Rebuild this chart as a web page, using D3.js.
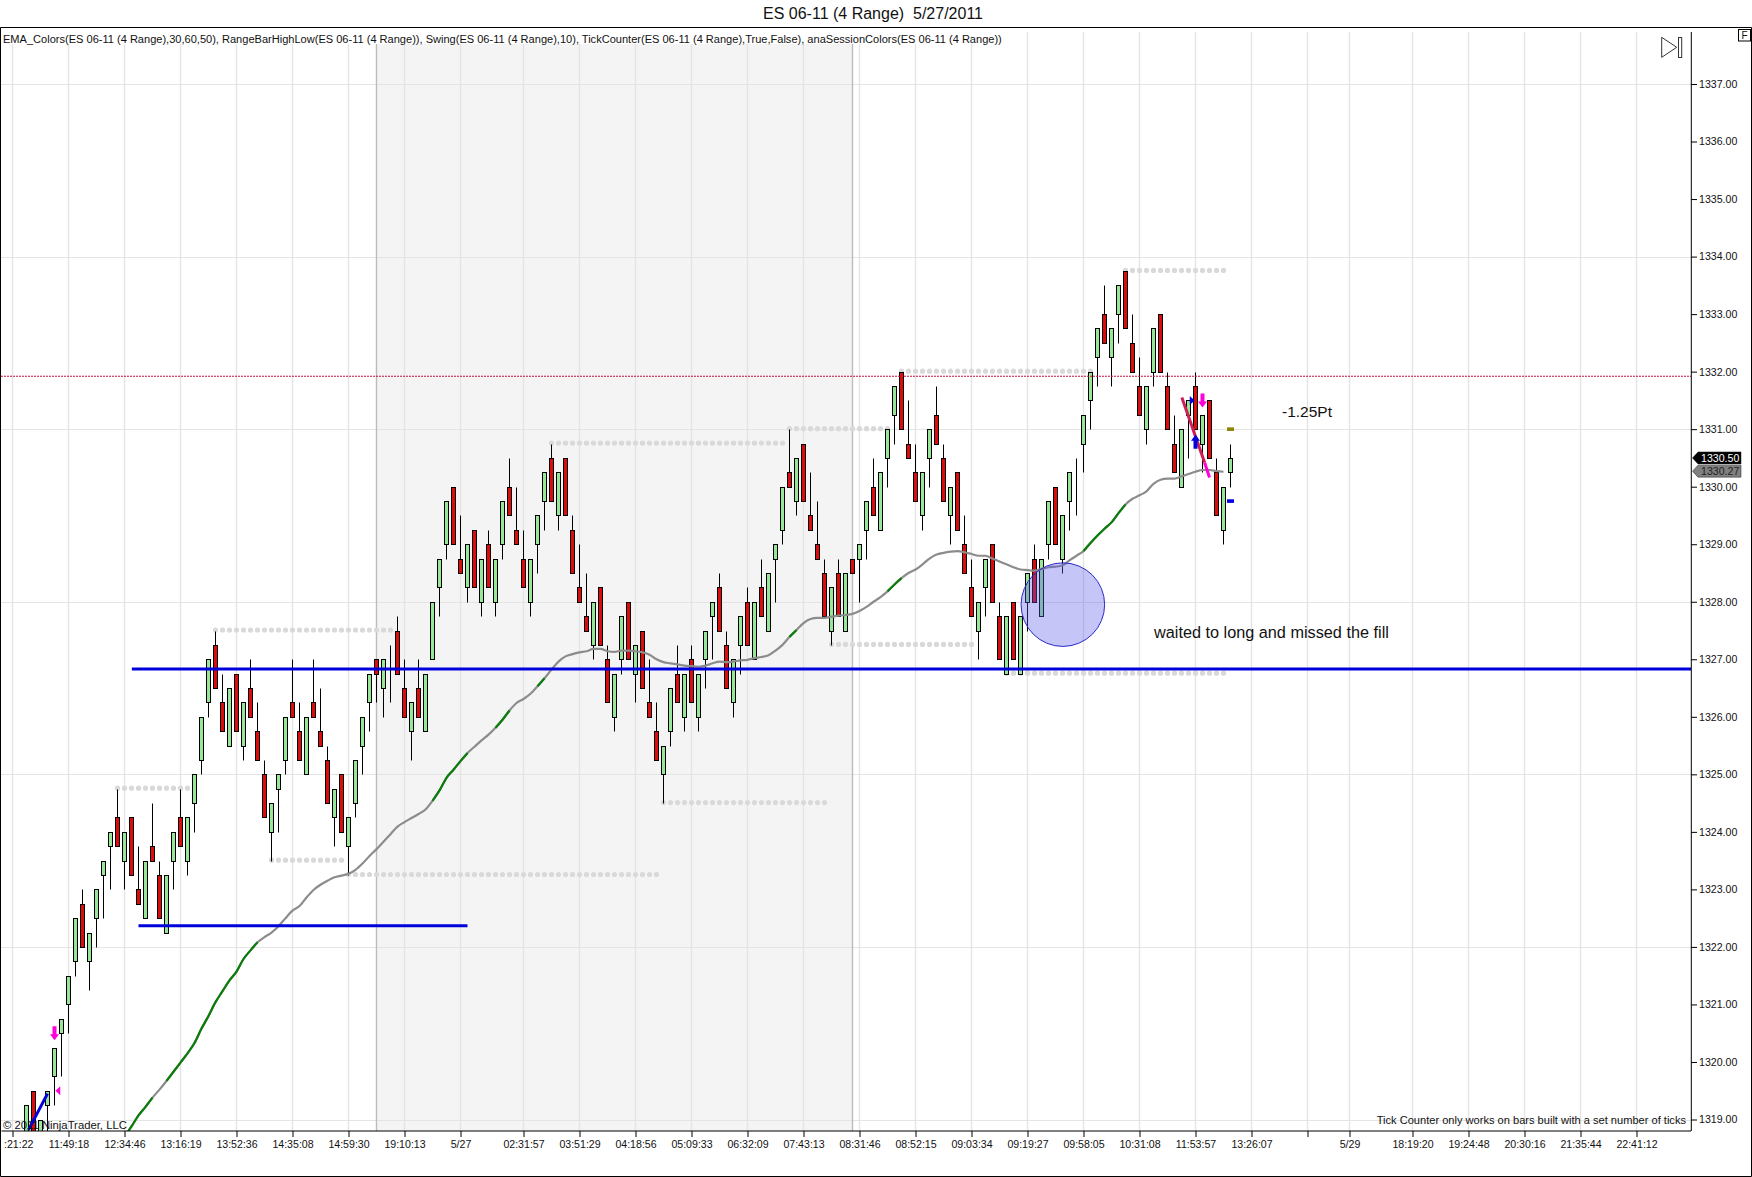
<!DOCTYPE html>
<html>
<head>
<meta charset="utf-8">
<title>ES 06-11 (4 Range)</title>
<script src="https://cdn.jsdelivr.net/npm/d3@7"></script>
<style>
  html, body { margin: 0; padding: 0; background: #fff; }
  svg { display: block; font-family: "Liberation Sans", Arial, sans-serif; }
  .domain { display: none; }
</style>
</head>
<body>
<div id="chart"></div>
<script>
////////////////////////////  Data  ////////////////////////////
const title = "ES 06-11 (4 Range)  5/27/2011";
const indicatorText = "EMA_Colors(ES 06-11 (4 Range),30,60,50), RangeBarHighLow(ES 06-11 (4 Range)), Swing(ES 06-11 (4 Range),10), TickCounter(ES 06-11 (4 Range),True,False), anaSessionColors(ES 06-11 (4 Range))";

// bars start at slot 2 of the time axis
const firstBar = 2;
const opens = [
  1318.5,1319.5,1318.5,1319.25,1319.75,1320.5,1321,1321.75,1322.75,1321.75,
  1322.5,1323.25,1323.75,1324.25,1323.5,1324.25,1323,1322.5,1323.75,1323.25,
  1322.25,1323.5,1324.25,1323.5,1324.5,1325.25,1326.25,1327.25,1326.25,1325.5,
  1326.75,1325.5,1326.5,1325.75,1325,1324,1324.75,1325.25,1326.25,1325.75,
  1325,1326.25,1325.75,1325.25,1324.25,1325,1323.75,1324.5,1325.5,1326.25,
  1327,1326.5,1327.25,1327.5,1326.5,1325.75,1326.5,1325.75,1327,1328.25,
  1329,1330,1328.75,1328.25,1329.25,1328,1329,1328,1329,1330,
  1329.25,1328.75,1328,1329,1329.75,1330.5,1329.5,1330.5,1329.25,1328.25,
  1327.75,1327.25,1328.25,1327,1326,1327,1328,1326.75,1327.5,1326.25,
  1325.75,1325,1325.75,1326.75,1326,1327,1326,1327,1327.75,1328.25,
  1327.25,1326.25,1327.25,1328,1327,1328.25,1327.5,1328.75,1329.25,1330.25,
  1329.75,1330.75,1329.5,1329,1328.5,1327.5,1328.5,1327.5,1328.75,1328.75,
  1329.25,1330,1329.25,1330.5,1331.25,1332,1330.75,1330.25,1329.5,1330.5,
  1331.25,1330.5,1329.5,1330.25,1329,1328.25,1327.5,1328.25,1329,1327.75,
  1326.75,1328,1326.75,1328,1328.75,1327.75,1329,1330,1328.75,1329.75,
  1330.5,1330.75,1331.5,1332.25,1333,1332.25,1333,1333.75,1332.5,1331.75,
  1331,1332,1333,1331.75,1330.75,1330,1331.25,1331.75,1330.75,1331.5,
  1330.25,1329.25,1330.25
];
const highs = [
  1319.25,1319.5,1319,1319.5,1320.25,1320.75,1321.5,1322.5,1323,1322.25,
  1323,1323.5,1324,1324.75,1324,1324.25,1323.75,1323.5,1324.5,1323.5,
  1323.25,1324,1324.75,1324.25,1325,1326,1327,1327.5,1326.75,1326.5,
  1326.75,1326.25,1327,1326.25,1325.25,1324.5,1325,1326,1327,1326.25,
  1326,1327,1326.5,1325.5,1324.75,1325,1324.25,1325.25,1326,1326.75,
  1327,1327,1327.25,1327.75,1327,1326.25,1327,1326.75,1328,1328.75,
  1329.75,1330,1329.5,1329,1329.25,1328.75,1329.25,1328.75,1329.75,1330.5,
  1330,1329.25,1328.75,1329.5,1330.25,1330.75,1330.25,1330.5,1329.5,1329,
  1328.5,1328,1328.25,1327.25,1326.75,1327.75,1328,1327.25,1327.5,1327,
  1326.25,1325.5,1326.5,1327.25,1326.75,1327.25,1326.75,1327.5,1328,1328.5,
  1327.5,1327,1327.75,1328.25,1328,1328.75,1328.5,1329,1330,1331,
  1330.5,1330.75,1330.25,1329.75,1328.75,1328.25,1328.75,1328.5,1328.75,1329,
  1329.75,1330.5,1330.25,1331,1331.75,1332,1331.5,1330.75,1330.25,1331,
  1331.75,1330.75,1330,1330.25,1329.5,1328.75,1328,1328.75,1329,1328,
  1327.75,1328,1327.75,1328.5,1329,1328.75,1329.75,1330,1329.5,1330.25,
  1330.5,1331.25,1332,1332.75,1333.5,1332.75,1333.5,1333.75,1333,1332.25,
  1331.75,1332.75,1333,1332,1331.25,1331,1331.5,1332,1331.25,1331.5,
  1330.5,1330,1330.75
];
const lows = [
  1318.25,1318.5,1318,1318.5,1319.25,1319.75,1320.5,1321.5,1322,1321.25,
  1322,1322.5,1323,1323.75,1323,1323.25,1322.75,1322.5,1323.5,1322.5,
  1322.25,1323,1323.75,1323.25,1324,1325,1326,1326.5,1325.75,1325.5,
  1325.75,1325.25,1326,1325.25,1324.25,1323.5,1324,1325,1326,1325.25,
  1325,1326,1325.5,1324.5,1323.75,1324,1323.25,1324.25,1325,1325.75,
  1326.25,1326,1326.25,1326.75,1326,1325.25,1326,1325.75,1327,1327.75,
  1328.75,1329,1328.5,1328,1328.25,1327.75,1328.25,1327.75,1328.75,1329.5,
  1329,1328.25,1327.75,1328.5,1329.25,1329.75,1329.25,1329.5,1328.5,1328,
  1327.5,1327,1327.25,1326.25,1325.75,1326.75,1327,1326.25,1326.5,1326,
  1325.25,1324.5,1325.5,1326.25,1325.75,1326.25,1325.75,1326.5,1327,1327.5,
  1326.5,1326,1326.75,1327.25,1327,1327.75,1327.5,1328,1329,1330,
  1329.5,1329.75,1329.25,1328.75,1327.75,1327.25,1327.75,1327.5,1328.5,1328,
  1328.75,1329.5,1329.25,1330,1330.75,1331,1330.5,1329.75,1329.25,1330,
  1330.75,1329.75,1329,1329.25,1328.5,1327.75,1327,1327.75,1328,1327,
  1326.75,1327,1326.75,1327.5,1328,1327.75,1328.75,1329,1328.5,1329.25,
  1329.5,1330.25,1331,1331.75,1332.5,1331.75,1332.5,1332.75,1332,1331.25,
  1330.75,1331.75,1332,1331,1330.25,1330,1330.5,1331,1330.25,1330.5,
  1329.5,1329,1330
];
const closes = [
  1319.25,1318.5,1319,1319.5,1320.25,1320.75,1321.5,1322.5,1322,1322.25,
  1323,1323.5,1324,1323.75,1324,1323.25,1322.75,1323.5,1323.5,1322.5,
  1323.25,1324,1323.75,1324.25,1325,1326,1327,1326.5,1325.75,1326.5,
  1325.75,1326.25,1326,1325.25,1324.25,1324.5,1325,1326,1326,1325.25,
  1326,1326,1325.5,1324.5,1324.75,1324,1324.25,1325.25,1326,1326.75,
  1326.75,1327,1327.25,1326.75,1326,1326.25,1326,1326.75,1328,1328.75,
  1329.75,1329,1328.5,1329,1328.25,1328.75,1328.25,1328.75,1329.75,1329.5,
  1329,1328.25,1328.75,1329.5,1330.25,1329.75,1330.25,1329.5,1328.5,1328,
  1327.5,1328,1327.25,1326.25,1326.75,1327.75,1327,1327.25,1326.5,1326,
  1325.25,1325.5,1326.5,1326.25,1326.75,1326.25,1326.75,1327.5,1328,1327.5,
  1326.5,1327,1327.75,1327.25,1328,1327.75,1328.5,1329,1330,1330,
  1330.5,1329.75,1329.25,1328.75,1327.75,1328.25,1327.75,1328.5,1328.5,1329,
  1329.75,1329.5,1330.25,1331,1331.75,1331,1330.5,1329.75,1330.25,1331,
  1330.75,1329.75,1330,1329.25,1328.5,1327.75,1328,1328.75,1328,1327,
  1327.75,1327,1327.75,1328.5,1328,1328.75,1329.75,1329,1329.5,1330.25,
  1330.5,1331.25,1332,1332.75,1332.5,1332.75,1333.5,1332.75,1332,1331.25,
  1331.75,1332.75,1332,1331,1330.25,1331,1331.5,1331,1331.25,1330.5,
  1329.5,1330,1330.5
];

// EMA, one value per bar from slot 16 to slot 173
const firstEmaBar = 16;
const emaValues = [
  1318.70,1318.88,1319.07,1319.22,1319.38,1319.52,1319.67,1319.83,1319.99,1320.15,
  1320.33,1320.58,1320.80,1321.04,1321.23,1321.42,1321.57,1321.79,1321.94,1322.08,
  1322.17,1322.25,1322.36,1322.50,1322.63,1322.71,1322.86,1322.99,1323.08,1323.15,
  1323.21,1323.24,1323.27,1323.34,1323.45,1323.58,1323.70,1323.83,1323.96,1324.09,
  1324.17,1324.24,1324.31,1324.39,1324.54,1324.72,1324.94,1325.08,1325.23,1325.37,
  1325.48,1325.59,1325.69,1325.81,1325.95,1326.11,1326.24,1326.31,1326.40,1326.53,
  1326.67,1326.82,1326.96,1327.05,1327.09,1327.12,1327.14,1327.18,1327.18,1327.14,
  1327.13,1327.15,1327.15,1327.14,1327.12,1327.08,1327.00,1326.95,1326.93,1326.91,
  1326.89,1326.88,1326.87,1326.89,1326.93,1326.96,1326.95,1326.96,1326.98,1326.99,
  1327.02,1327.04,1327.07,1327.15,1327.25,1327.39,1327.51,1327.63,1327.70,1327.72,
  1327.72,1327.74,1327.76,1327.77,1327.79,1327.84,1327.91,1328.00,1328.08,1328.18,
  1328.30,1328.41,1328.50,1328.56,1328.65,1328.75,1328.82,1328.85,1328.87,1328.88,
  1328.86,1328.83,1328.80,1328.80,1328.75,1328.70,1328.65,1328.60,1328.56,1328.55,
  1328.54,1328.57,1328.60,1328.61,1328.63,1328.72,1328.80,1328.88,1329.02,1329.15,
  1329.27,1329.38,1329.54,1329.69,1329.79,1329.85,1329.92,1330.05,1330.12,1330.14,
  1330.14,1330.18,1330.22,1330.26,1330.29,1330.29,1330.27,1330.26
];
// parts of the EMA drawn green, the rest is gray
const emaGreenSpans = [[16,20],[22,35],[60,65],[69,71],[75,76],[111,112],[125,127],[153,159]];

// swing dots: price, first slot, last slot
const swingPrices = [1327.5,1324.75,1323.5,1323.25,1330.75,1331,1324.5,1327.25,1332,1333.75,1326.75];
const swingFrom   = [29,15,37,48,77,111,93,117,127,159,142];
const swingTo     = [54,25,47,92,110,125,116,137,154,173,173];

const priceTicks = d3.range(1319, 1338);
const gridPrices = [1319,1322,1325,1328,1331,1334,1337];
const timeTickSlots = [0,8,16,24,32,40,48,56,64,73,81,89,97,105,113,121,129,137,145,153,161,169,177,185,191,200,208,216,224,232];
const timeTickLabels = [":21:22","11:49:18","12:34:46","13:16:19","13:52:36","14:35:08","14:59:30","19:10:13","5/27","02:31:57","03:51:29","04:18:56","05:09:33","06:32:09","07:43:13","08:31:46","08:52:15","09:03:34","09:19:27","09:58:05","10:31:08","11:53:57","13:26:07","","5/29","18:19:20","19:24:48","20:30:16","21:35:44","22:41:12"];

const sessionFrom = 52, sessionTo = 120;
const priorCloseLine = 1331.92;
const lastPrice = 1330.50, lastEma = 1330.27;

////////////////////////////  Init  ////////////////////////////
const width = 1752, height = 1177;
const plot = { left: 1, top: 32, right: 1691, bottom: 1131 };

const svg = d3.select("#chart").append("svg").attr("width", width).attr("height", height);

const x = d3.scaleLinear().domain([0, 232]).range([12.5, 12.5 + 7 * 232]);
const y = d3.scaleLinear().domain([1319, 1337]).range([1119.5, 84]);
// snap to the pixel grid so candles stay crisp
const yc = (p) => Math.round(y(p)) + 0.5;

const upColor = "#98e698", downColor = "#dc0c0c";
const blue = "#0000dc", magenta = "#ff00d8", crimson = "#cc1f55";

svg.append("defs").append("clipPath").attr("id", "plot-clip").append("rect")
  .attr("x", plot.left).attr("y", plot.top)
  .attr("width", plot.right - plot.left).attr("height", plot.bottom - plot.top);

const g = svg.append("g").attr("clip-path", "url(#plot-clip)");

////////////////////////////  Background  ////////////////////////////
g.append("rect")
  .attr("x", x(sessionFrom)).attr("y", plot.top)
  .attr("width", x(sessionTo) - x(sessionFrom)).attr("height", plot.bottom - plot.top)
  .attr("fill", "#f4f4f4");

g.selectAll(".vgrid").data(timeTickSlots).enter().append("line")
  .attr("x1", d => x(d)).attr("x2", d => x(d))
  .attr("y1", plot.top).attr("y2", plot.bottom)
  .attr("stroke", "#e4e4e4").attr("stroke-width", 1.4);

g.selectAll(".hgrid").data(gridPrices).enter().append("line")
  .attr("x1", plot.left).attr("x2", plot.right)
  .attr("y1", d => yc(d)).attr("y2", d => yc(d))
  .attr("stroke", "#e4e4e4").attr("stroke-width", 1);

g.selectAll(".session").data([sessionFrom, sessionTo]).enter().append("line")
  .attr("x1", d => x(d)).attr("x2", d => x(d))
  .attr("y1", plot.top).attr("y2", plot.bottom)
  .attr("stroke", "#bcbcbc").attr("stroke-width", 1.4);

g.append("rect").attr("x", plot.left).attr("y", plot.top).attr("width", 1003).attr("height", 12).attr("fill", "#fff");

////////////////////////////  Swing dots  ////////////////////////////
swingPrices.forEach((p, k) => {
  g.append("g").selectAll("circle").data(d3.range(swingFrom[k], swingTo[k] + 1)).enter().append("circle")
    .attr("cx", d => x(d)).attr("cy", y(p) - 0.5).attr("r", 2.6).attr("fill", "#d9d9d9");
});

////////////////////////////  Candles  ////////////////////////////
const bars = opens.map((o, k) => ({ slot: firstBar + k, o, h: highs[k], l: lows[k], c: closes[k] }));
const candle = g.append("g").selectAll("g").data(bars).enter().append("g");

candle.append("line")
  .attr("x1", d => x(d.slot)).attr("x2", d => x(d.slot))
  .attr("y1", d => yc(d.h)).attr("y2", d => yc(d.l))
  .attr("stroke", "#000").attr("stroke-width", 1);

candle.append("rect")
  .attr("x", d => x(d.slot) - 2)
  .attr("y", d => yc(Math.max(d.o, d.c)))
  .attr("width", 4)
  .attr("height", d => Math.abs(yc(d.o) - yc(d.c)))
  .attr("fill", d => d.c >= d.o ? upColor : downColor)
  .attr("stroke", "#000").attr("stroke-width", 1);

////////////////////////////  EMA  ////////////////////////////
const emaPoints = emaValues.map((v, k) => ({ slot: firstEmaBar + k, v }));
const emaLine = d3.line().x(d => x(d.slot)).y(d => y(d.v)).curve(d3.curveMonotoneX);

g.append("path").datum(emaPoints).attr("d", emaLine)
  .attr("fill", "none").attr("stroke", "#8c8c8c").attr("stroke-width", 2.2);

emaGreenSpans.forEach(([a, b]) => {
  g.append("path").datum(emaPoints.filter(d => d.slot >= a && d.slot <= b)).attr("d", emaLine)
    .attr("fill", "none").attr("stroke", "#0b7d0b").attr("stroke-width", 2.2);
});

////////////////////////////  Drawing tools  ////////////////////////////
const hLine = (from, to, p, color, w) => g.append("line")
  .attr("x1", from).attr("x2", to).attr("y1", y(p)).attr("y2", y(p))
  .attr("stroke", color).attr("stroke-width", w);

hLine(plot.left, plot.right, priorCloseLine, "#c8103c", 1).attr("stroke-dasharray", "2,1");
hLine(x(17.05), plot.right, 1326.83, blue, 3);
hLine(x(18), x(65), 1322.37, blue, 3);

const segment = (a, pa, b, pb, color, w) => g.append("line")
  .attr("x1", x(a)).attr("y1", y(pa)).attr("x2", x(b)).attr("y2", y(pb))
  .attr("stroke", color).attr("stroke-width", w);

segment(2.29, 1318.82, 5, 1319.45, blue, 3);
segment(167.05, 1331.55, 170.3, 1330.42, crimson, 3);
segment(170.3, 1330.42, 171, 1330.16, magenta, 3);

// vertical entry/exit arrows
const arrow = (slot, p, dir, color) => {
  const cx = x(slot), cy = y(p);
  g.append("path")
    .attr("d", d3.line()([
      [cx - 2, cy - 7 * dir], [cx + 2, cy - 7 * dir], [cx + 2, cy + 1 * dir],
      [cx + 4.5, cy + 1 * dir], [cx, cy + 7 * dir], [cx - 4.5, cy + 1 * dir], [cx - 2, cy + 1 * dir]
    ]) + "Z")
    .attr("fill", color);
};
arrow(6, 1320.5, 1, magenta);
arrow(170, 1331.5, 1, magenta);
arrow(169, 1330.78, -1, blue);

// small side triangles
const triangle = (slot, p, dir, color) => {
  const cx = x(slot), cy = y(p);
  g.append("path")
    .attr("d", d3.line()([[cx - 2.2 * dir, cy], [cx + 2.6 * dir, cy - 4.5], [cx + 2.6 * dir, cy + 4.5]]) + "Z")
    .attr("fill", color);
};
triangle(6.45, 1319.5, 1, magenta);
triangle(168.55, 1331.5, -1, blue);

// target markers on the last bar
const marker = (p, color) => g.append("rect")
  .attr("x", x(174) - 3.5).attr("y", y(p) - 1.8).attr("width", 7).attr("height", 3.6).attr("fill", color);
marker(1331, "#8f8500");
marker(1329.75, blue);

g.append("circle")
  .attr("cx", x(150.05)).attr("cy", y(1327.95)).attr("r", 41.8)
  .attr("fill", "rgba(90,90,235,0.35)").attr("stroke", "#2a2ac8").attr("stroke-width", 1);

////////////////////////////  Axes  ////////////////////////////
const axisFont = 10.6;

const xAxis = svg.append("g").attr("transform", `translate(0,${plot.bottom})`)
  .call(d3.axisBottom(x).tickValues(timeTickSlots).tickSize(6).tickPadding(3)
    .tickFormat((d, i) => timeTickLabels[i]));
xAxis.selectAll("text").attr("font-size", axisFont).attr("font-family", "inherit").attr("fill", "#111");
xAxis.selectAll("line").attr("stroke", "#000");
xAxis.select(".tick text").attr("text-anchor", "start").attr("x", -9);

const yAxis = svg.append("g").attr("transform", `translate(${plot.right},0)`)
  .call(d3.axisRight(y).tickValues(priceTicks).tickSize(6).tickPadding(2)
    .tickFormat(d => d3.format(".2f")(d)));
yAxis.selectAll("text").attr("font-size", axisFont).attr("font-family", "inherit").attr("fill", "#111");
yAxis.selectAll("line").attr("stroke", "#000");

// frame
const frame = svg.append("g").attr("fill", "none").attr("stroke", "#000").attr("stroke-width", 1);
frame.append("path").attr("d", `M0.5,1176.5V27.5H1751.5V1176.5H0.5`);
frame.append("path").attr("d", `M1.5,${plot.bottom}H${plot.right}M${plot.right + 0.3},${plot.top}V${plot.bottom}`);

// price tags
const priceTag = (p, fill, textColor) => {
  const t = svg.append("g").attr("transform", `translate(0,${y(p)})`);
  t.append("path")
    .attr("d", d3.line()([[1692.5, 0], [1698, -6], [1741, -6], [1741, 6], [1698, 6]]) + "Z")
    .attr("fill", fill).attr("stroke", "#222").attr("stroke-width", 0.5);
  t.append("text").attr("x", 1701).attr("y", 0).attr("dy", "0.35em")
    .attr("font-size", axisFont).attr("fill", textColor).text(d3.format(".2f")(p));
};
priceTag(lastEma, "#808080", "#222");
priceTag(lastPrice, "#000", "#fff");

////////////////////////////  Text  ////////////////////////////
const label = (tx, ty, s, size, anchor) => svg.append("text")
  .attr("x", tx).attr("y", ty).attr("dy", "0.35em")
  .attr("font-size", size).attr("fill", "#111").attr("text-anchor", anchor || "start").text(s);

label(873, 13, title, 16, "middle").style("white-space", "pre");
label(3, 39, indicatorText, 11.05);
label(3, 1125, "© 2011 NinjaTrader, LLC", 11.3);
label(1686, 1120, "Tick Counter only works on bars built with a set number of ticks", 11.08, "end");
label(1154, 632, "waited to long and missed the fill", 16.25);
label(1282, 412, "-1.25Pt", 15.5);

// go-to-end icon, F box
const icon = svg.append("g").attr("fill", "none").attr("stroke", "#333").attr("stroke-width", 1);
icon.append("path").attr("d", "M1661.7,37.3L1676.7,47.3L1661.7,57.3Z");
icon.append("rect").attr("x", 1678.5).attr("y", 37.5).attr("width", 3.2).attr("height", 20);
svg.append("rect").attr("x", 1738.5).attr("y", 29.5).attr("width", 12).attr("height", 11.5)
  .attr("fill", "#fff").attr("stroke", "#000");
label(1744.5, 35.5, "F", 10, "middle");
</script>
</body>
</html>
